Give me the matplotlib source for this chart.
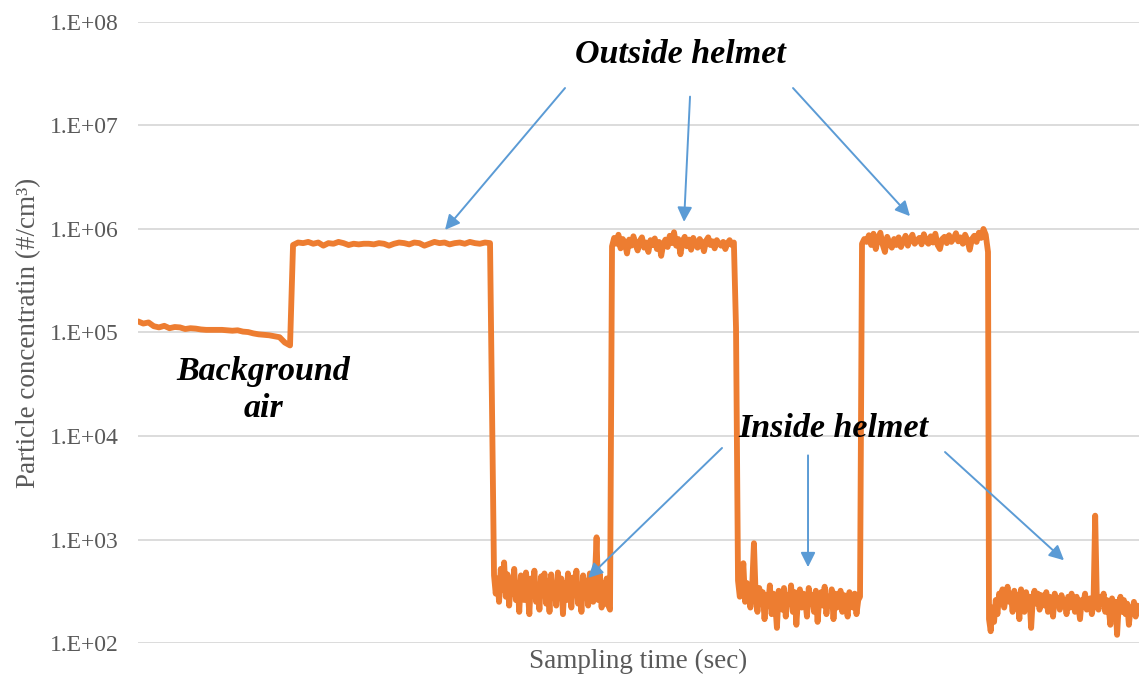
import numpy as np
import matplotlib
matplotlib.use('Agg')
import matplotlib.pyplot as plt
from matplotlib.ticker import FixedLocator, FuncFormatter

plt.rcParams['font.family'] = ['Liberation Serif', 'DejaVu Serif']

# particle concentration (#/cm3), one list per phase
background = [1.28e5, 1.22e5, 1.25e5, 1.15e5, 1.12e5, 1.16e5, 1.10e5, 1.13e5, 1.12e5, 1.08e5,
              1.10e5, 1.09e5, 1.07e5, 1.06e5, 1.06e5, 1.06e5, 1.06e5, 1.05e5, 1.04e5, 1.05e5,
              1.02e5, 1.01e5, 0.98e5, 0.96e5, 0.95e5, 0.94e5, 0.92e5, 0.90e5, 0.80e5, 0.75e5]
outside_1 = [7.0e5, 7.4e5, 7.3e5, 7.5e5, 7.2e5, 7.4e5, 6.9e5, 7.3e5, 7.2e5, 7.5e5,
             7.3e5, 7.0e5, 7.2e5, 7.1e5, 7.2e5, 7.2e5, 7.1e5, 7.3e5, 7.2e5, 6.9e5,
             7.2e5, 7.4e5, 7.3e5, 7.1e5, 7.4e5, 7.3e5, 6.9e5, 7.2e5, 7.5e5, 7.3e5,
             7.4e5, 7.1e5, 7.3e5, 7.4e5, 7.2e5, 7.5e5, 7.3e5, 7.2e5, 7.4e5, 7.3e5]
inside_1 = [450, 300, 420, 250, 520, 330, 600, 280, 460, 230, 400, 300, 520, 260, 380, 200,
            450, 310, 260, 480, 340, 190, 420, 290, 500, 250, 360, 210, 440, 300, 470, 240,
            400, 200, 460, 280, 370, 230, 480, 300, 420, 190, 380, 260, 470, 310, 220, 430,
            290, 500, 240, 360, 200, 450, 280, 400, 230, 470, 300, 250, 420, 1050, 260, 460,
            220, 380, 240, 420, 230, 210]
outside_2 = [6.8e5, 8.2e5, 7.2e5, 8.8e5, 6.5e5, 8.0e5, 7.4e5, 5.8e5, 7.9e5, 6.9e5, 8.5e5, 7.1e5,
             6.2e5, 7.7e5, 8.3e5, 6.6e5, 7.4e5, 6.0e5, 7.8e5, 7.0e5, 8.1e5, 6.4e5, 7.5e5, 5.5e5,
             7.2e5, 7.9e5, 6.7e5, 8.6e5, 7.3e5, 9.3e5, 6.9e5, 8.0e5, 5.7e5, 7.6e5, 8.4e5, 6.8e5,
             7.9e5, 6.3e5, 8.2e5, 7.1e5, 6.6e5, 8.0e5, 7.4e5, 6.1e5, 7.7e5, 8.3e5, 7.0e5, 7.6e5,
             6.5e5, 7.8e5, 7.2e5, 6.9e5, 7.5e5, 6.4e5, 7.3e5, 7.8e5, 7.0e5, 7.4e5, 1.1e5]
inside_2 = [400, 280, 330, 590, 250, 380, 300, 220, 350, 920, 280, 200, 340, 260, 310, 170,
            290, 230, 360, 190, 300, 250, 140, 320, 270, 210, 340, 180, 290, 240, 360, 200,
            310, 150, 280, 330, 220, 300, 260, 180, 340, 240, 290, 200, 320, 160, 270, 310,
            230, 350, 190, 280, 250, 330, 170, 300, 220, 270, 320, 200, 290, 240, 180, 310,
            250, 220, 300, 190, 260, 280]
outside_3 = [7.2e5, 8.0e5, 7.5e5, 8.7e5, 7.0e5, 9.0e5, 6.4e5, 8.2e5, 9.2e5, 7.1e5, 6.0e5, 8.4e5,
             7.3e5, 6.6e5, 8.0e5, 7.0e5, 8.3e5, 6.7e5, 7.6e5, 8.6e5, 6.9e5, 8.0e5, 8.8e5, 7.2e5,
             7.7e5, 8.2e5, 7.1e5, 8.9e5, 7.6e5, 7.2e5, 8.5e5, 7.4e5, 9.0e5, 7.0e5, 6.4e5, 8.0e5,
             8.4e5, 7.3e5, 8.7e5, 7.5e5, 8.1e5, 9.1e5, 7.6e5, 8.3e5, 7.2e5, 8.8e5, 7.8e5, 6.3e5,
             8.0e5, 8.6e5, 7.5e5, 9.2e5, 8.2e5, 1.0e6, 8.8e5, 6.0e5]
inside_3 = [170, 130, 220, 160, 260, 190, 300, 240, 330, 220, 280, 350, 250, 300, 200, 320,
            240, 290, 170, 330, 260, 200, 310, 230, 280, 140, 270, 320, 240, 300, 210, 290,
            260, 230, 310, 200, 280, 250, 180, 300, 240, 270, 210, 290, 230, 260, 190, 280,
            220, 300, 250, 200, 280, 230, 170, 260, 240, 300, 210, 250, 270, 190, 240, 1700,
            250, 210, 280, 240, 300, 200, 260, 220, 150, 270, 230, 250, 120, 240, 280, 200,
            260, 190, 240, 150, 220, 200, 250, 180, 230, 210]

# start / end of each phase on the sampling-time axis
phases = [background, outside_1, inside_1, outside_2, inside_2, outside_3, inside_3]
phase_times = [(0, 152), (155, 352), (356, 472), (474, 598), (600, 722), (724, 850), (851, 1001)]

time = np.concatenate([np.linspace(a, b, len(p)) for p, (a, b) in zip(phases, phase_times)])
conc = np.concatenate([np.array(p, dtype=float) for p in phases])

ORANGE = '#ED7D31'
BLUE = '#5B9BD5'

fig = plt.figure(figsize=(11.39, 6.78), dpi=100)
ax = fig.add_axes([0.1212, 0.0516, 0.8788, 0.916])

ax.plot(time, conc, color=ORANGE, lw=4.2, solid_joinstyle='round', solid_capstyle='round', zorder=3)

ax.set_yscale('log')
ax.set_ylim(1e2, 1e8)
ax.set_xlim(0, 1001)
ax.yaxis.set_major_locator(FixedLocator([10.0 ** k for k in range(2, 9)]))
ax.yaxis.set_minor_locator(FixedLocator([]))
ax.yaxis.set_major_formatter(FuncFormatter(lambda v, _: '1.E+%02d' % round(np.log10(v))))
ax.set_xticks([])
ax.tick_params(axis='y', length=0, pad=14, labelsize=17, labelcolor='#595959')
ax.grid(axis='y', color='#D9D9D9', lw=1.3)
ax.set_axisbelow(True)
for s in ax.spines.values():
    s.set_visible(False)

ax.set_xlabel('Sampling time (sec)', fontsize=19.5, color='#595959', labelpad=4)
ax.set_ylabel('Particle concentratin (#/cm\u00b3)', fontsize=19.5, color='#595959', labelpad=6)

note = dict(fontsize=24.5, fontweight='bold', fontstyle='italic', color='black', ha='center', va='center')
arrow = dict(arrowstyle='-|>', color=BLUE, lw=1.4, mutation_scale=22, shrinkA=0, shrinkB=0)

ax.text(542, 4.8e7, 'Outside helmet', **note)
ax.text(125, 2.8e4, 'Background\nair', linespacing=1.25, **note)
ax.text(695, 1.19e4, 'Inside helmet', **note)

outside_arrows = [((427, 2.3e7), (307, 9.8e5)), ((552, 1.9e7), (546, 1.17e6)), ((655, 2.3e7), (772, 1.33e6))]
inside_arrows = [((584, 7.66e3), (450, 4.25e2)), ((670, 6.5e3), (670, 5.4e2)), ((807, 7.0e3), (926, 6.3e2))]
for tail, tip in outside_arrows + inside_arrows:
    ax.annotate('', xy=tip, xytext=tail, arrowprops=arrow)

fig.savefig('out.png', dpi=100)
